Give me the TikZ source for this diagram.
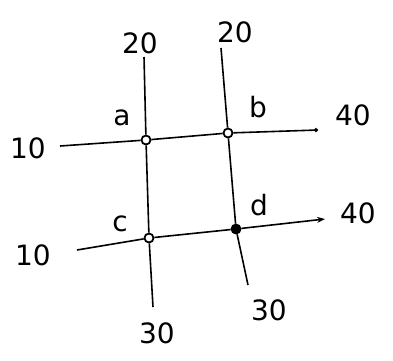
\documentclass[tikz,border=0pt]{standalone}
\usepackage{fontspec}
\setmainfont{DejaVu Sans}
\usetikzlibrary{arrows.meta, positioning}

\begin{document}
\begin{tikzpicture}[
  x=1pt, y=-1pt,
  jn/.style={circle, draw, line width=1.8pt, inner sep=0pt, minimum size=9pt},
  jnfill/.style={jn, fill=black},
  lbl/.style={font=\fontsize{28}{28}\selectfont\fontseries{l}},
  wire/.style={line width=1.6pt, color=black}
]
\useasboundingbox (0,0) rectangle (393,360);
% junctions
\node[jn]     (a) at (146,140) {};
\node[jn]     (b) at (228,133) {};
\node[jn]     (c) at (149,238) {};
\node[jnfill] (d) at (236,229) {};
% free ends
\coordinate (at) at (144,57);
\coordinate (bt) at (221,48);
\coordinate (cb) at (153,307);
\coordinate (db) at (248,285);
\coordinate (al) at (60,146);
\coordinate (br) at (318,130);
\coordinate (cl) at (77,250);
\coordinate (dr) at (325,219);
% lines
\draw[wire] (at) -- (a);
\draw[wire] (a)  -- (c);
\draw[wire] (c)  -- (cb);
\draw[wire] (bt) -- (b);
\draw[wire] (b)  -- (d);
\draw[wire] (d)  -- (db);
\draw[wire] (al) -- (a);
\draw[wire] (a)  -- (b);
\draw[wire, -{Circle[length=4pt]}] (b) -- (br);
\draw[wire] (cl) -- (c);
\draw[wire] (c)  -- (d);
\draw[wire, -{Stealth[length=8pt]}] (d) -- (dr);
% labels
\node[lbl] (t1) at (140,43)  {20};
\node[lbl] (t2) at (235,32)  {20};
\node[lbl] (la) at (122,118) {a};
\node[lbl] (lb) at (258,107) {b};
\node[lbl] (lc) at (120,224) {c};
\node[lbl] (ld) at (259,205) {d};
\node[lbl] (r1) at (353,115) {40};
\node[lbl] (r2) at (358,213) {40};
\node[lbl] (l1) at (28,148)  {10};
\node[lbl] (l2) at (33,255)  {10};
\node[lbl] (b1) at (157,333) {30};
\node[lbl] (b2) at (269,310) {30};
\end{tikzpicture}
\end{document}
